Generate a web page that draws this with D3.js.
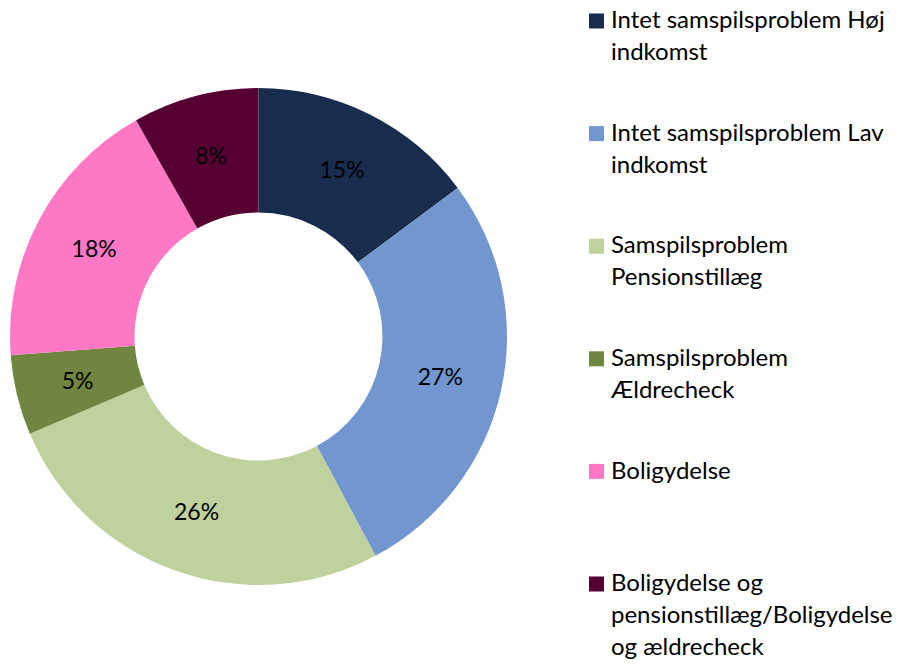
<!DOCTYPE html>
<html>
<head>
<meta charset="utf-8">
<script src="https://cdn.jsdelivr.net/npm/d3@7"></script>
<style>
  body { margin: 0; background: #fff; }
  svg text { font-family: Lato, "Open Sans", sans-serif; fill: #000; }
</style>
</head>
<body>
<div id="chart"></div>
<script>
// categories (legend text, lines split by "\n")
var categories = [
  "Intet samspilsproblem Høj\nindkomst",
  "Intet samspilsproblem Lav\nindkomst",
  "Samspilsproblem\nPensionstillæg",
  "Samspilsproblem\nÆldrecheck",
  "Boligydelse",
  "Boligydelse og\npensionstillæg/Boligydelse\nog ældrecheck"
];
// shares in percent
var shares = [14.8, 27.4, 26.4, 5.2, 18.0, 8.2];
var colors = ["#182c4d", "#7297d0", "#bfd19c", "#708640", "#ff78c6", "#550030"];

var width = 904, height = 664;
var cx = 258.5, cy = 336.5;
var outerR = 248.5, innerR = 124;

var data = categories.map(function(c, i) {
  return { name: c, value: shares[i], color: colors[i] };
});

var svg = d3.select("#chart").append("svg")
    .attr("width", width)
    .attr("height", height);

var pie = d3.pie()
    .sort(null)
    .value(function(d) { return d.value; });

var arc = d3.arc()
    .innerRadius(innerR)
    .outerRadius(outerR);

var labelArc = d3.arc()
    .innerRadius((innerR + outerR) / 2)
    .outerRadius((innerR + outerR) / 2);

var g = svg.append("g")
    .attr("transform", "translate(" + cx + "," + cy + ")");

var slices = g.selectAll("g.slice")
    .data(pie(data))
  .enter().append("g")
    .attr("class", "slice");

slices.append("path")
    .attr("d", arc)
    .style("fill", function(d) { return d.data.color; });

slices.append("text")
    .attr("transform", function(d) { return "translate(" + labelArc.centroid(d) + ")"; })
    .attr("text-anchor", "middle")
    .attr("dy", "0.35em")
    .style("font-size", "23px")
    .text(function(d) { return Math.round(d.data.value) + "%"; });

// legend
var legendX = 589, legendY0 = 21, legendStep = 112.6, lineH = 32;

var legend = svg.selectAll("g.legend")
    .data(data)
  .enter().append("g")
    .attr("class", "legend")
    .attr("transform", function(d, i) { return "translate(" + legendX + "," + (legendY0 + i * legendStep) + ")"; });

legend.append("rect")
    .attr("x", 0)
    .attr("y", -7.5)
    .attr("width", 15)
    .attr("height", 15)
    .style("fill", function(d) { return d.color; });

legend.append("text")
    .attr("x", 22)
    .attr("y", 0)
    .style("font-size", "24px")
    .each(function(d) {
      var t = d3.select(this);
      d.name.split("\n").forEach(function(line, j) {
        t.append("tspan")
          .attr("x", 22)
          .attr("y", j * lineH)
          .attr("dy", "0.3em")
          .text(line);
      });
    });
</script>
</body>
</html>
